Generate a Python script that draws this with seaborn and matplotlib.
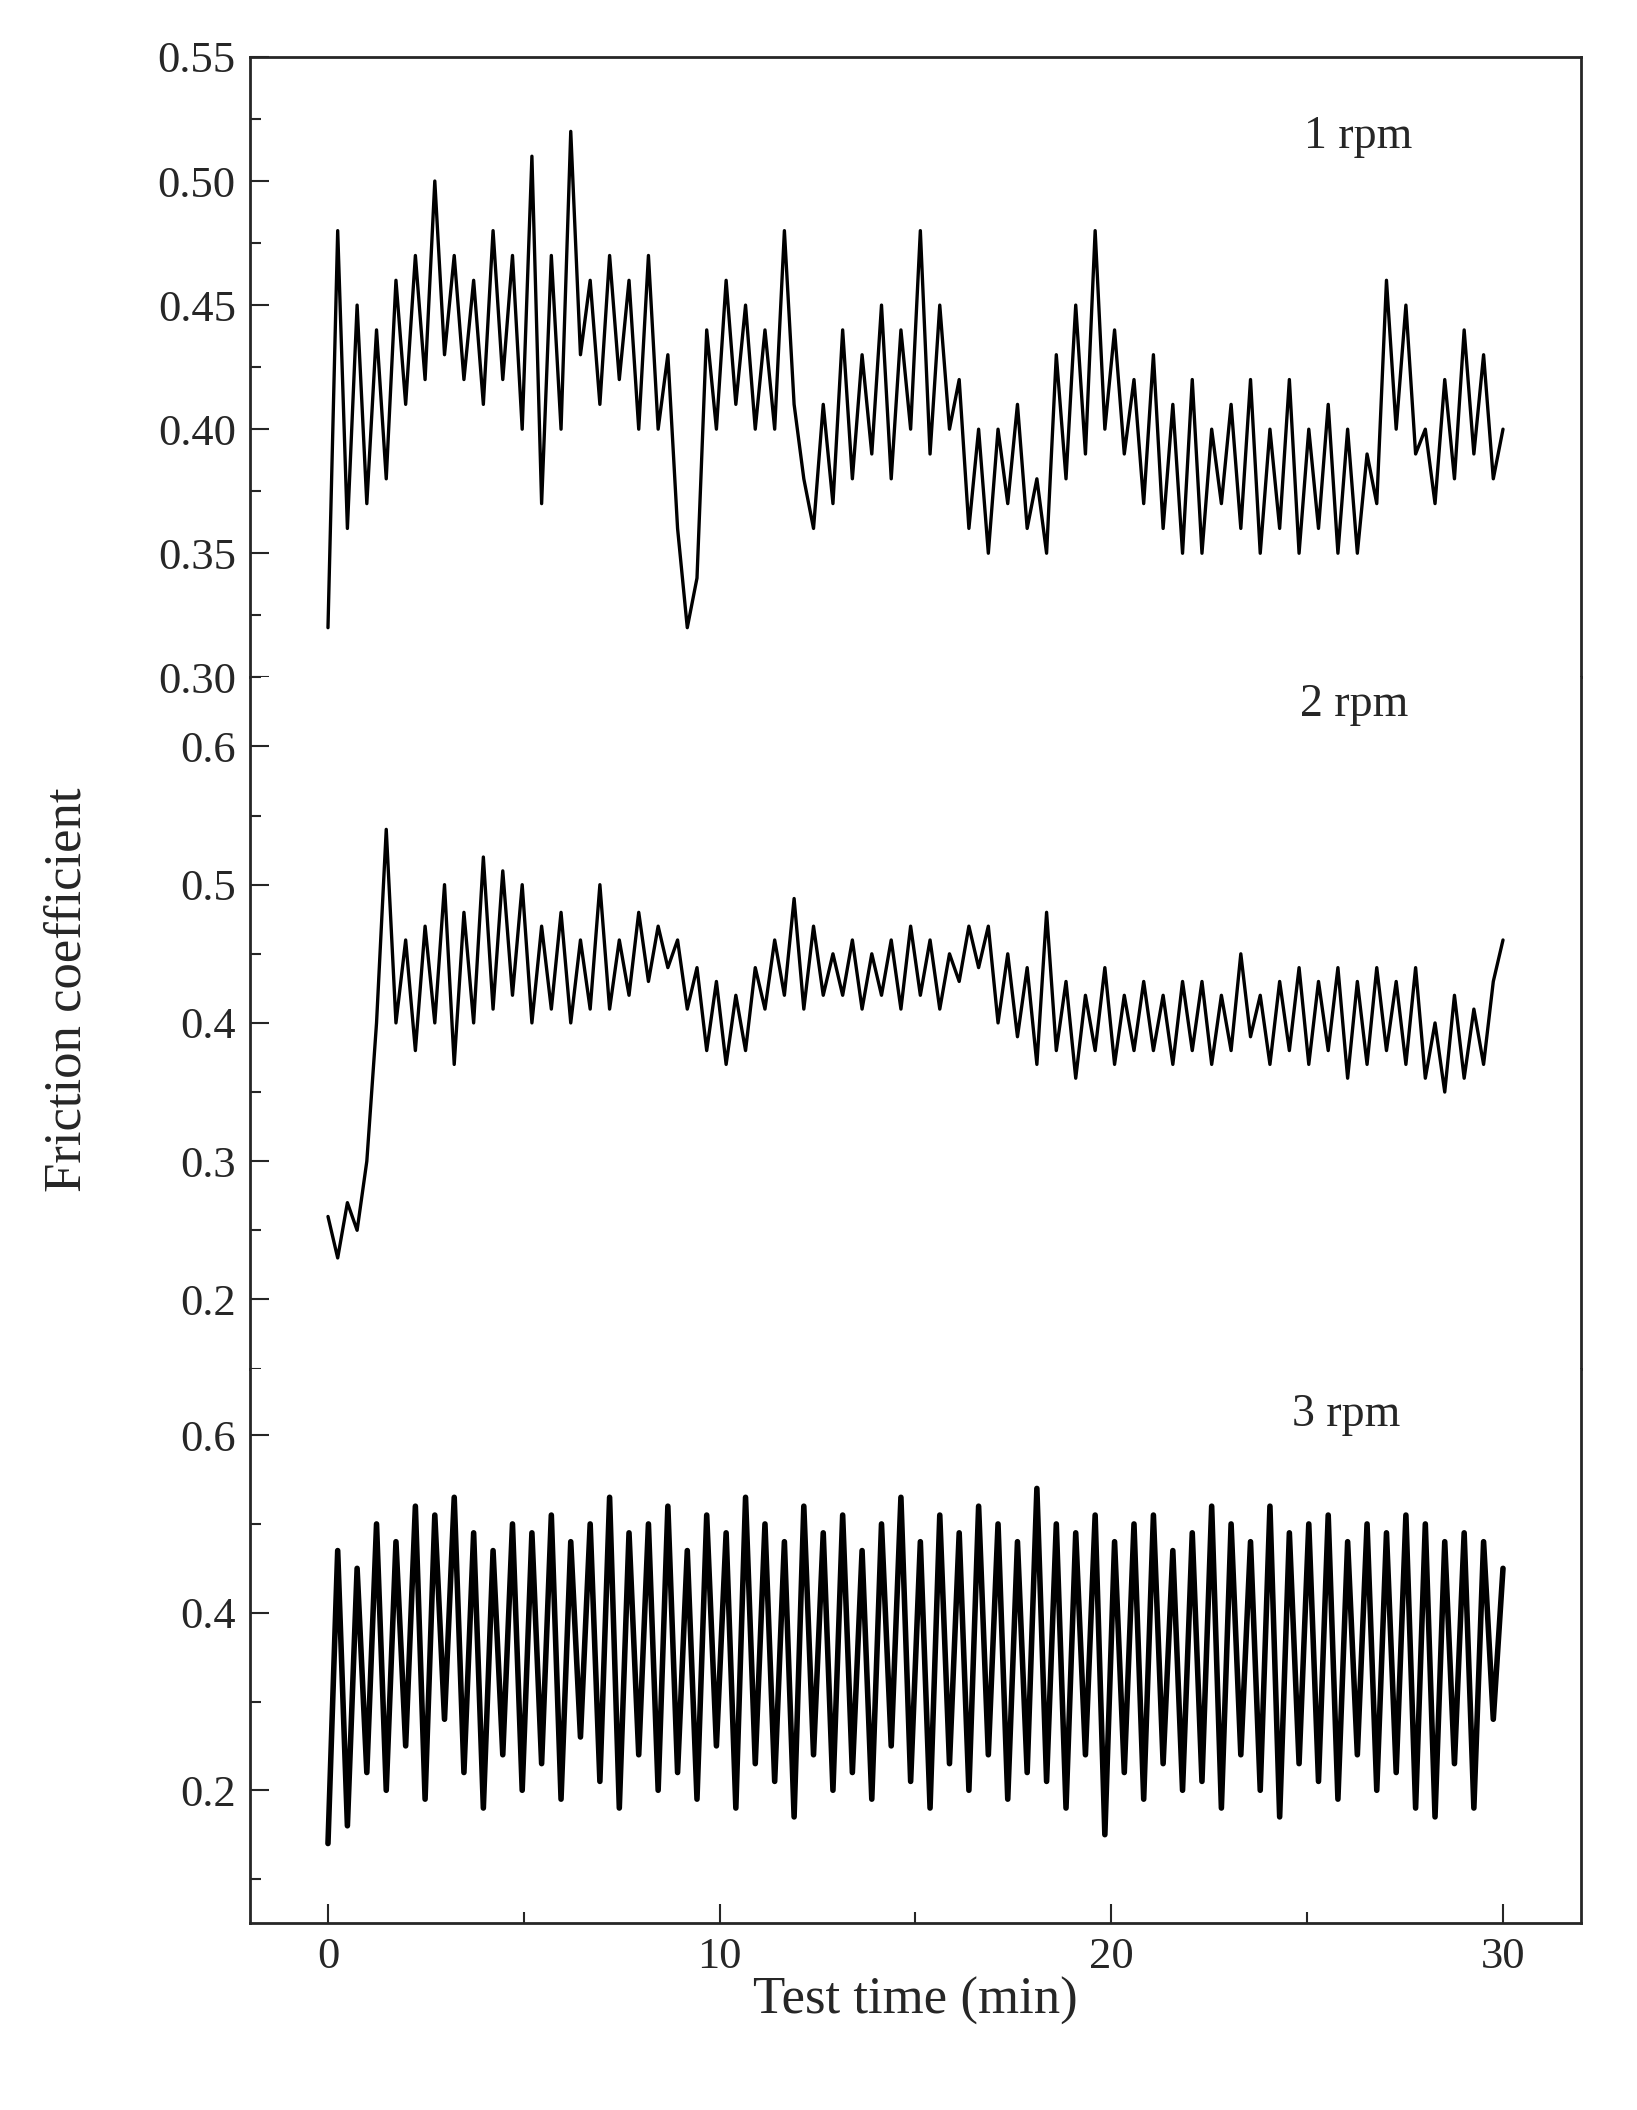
import numpy as np
import matplotlib
matplotlib.use("Agg")
import matplotlib.pyplot as plt
import seaborn as sns
from matplotlib.ticker import MultipleLocator

sns.set_style("ticks")
plt.rcParams['font.family'] = ['Liberation Serif', 'DejaVu Serif']

rpm1 = [0.32,0.48,0.36,0.45,0.37,
 0.44,0.38,0.46,0.41, 0.47,0.42,0.50,0.43, 0.47,0.42,0.46,0.41, 0.48,0.42,0.47,0.40,
 0.51,0.37,0.47,0.40, 0.52,0.43,0.46,0.41, 0.47,0.42,0.46,0.40, 0.47,0.40,0.43,0.36,
 0.32,0.34,0.44,0.40, 0.46,0.41,0.45,0.40, 0.44,0.40,0.48,0.41, 0.38,0.36,0.41,0.37,
 0.44,0.38,0.43,0.39, 0.45,0.38,0.44,0.40, 0.48,0.39,0.45,0.40, 0.42,0.36,0.40,0.35,
 0.40,0.37,0.41,0.36, 0.38,0.35,0.43,0.38, 0.45,0.39,0.48,0.40, 0.44,0.39,0.42,0.37,
 0.43,0.36,0.41,0.35, 0.42,0.35,0.40,0.37, 0.41,0.36,0.42,0.35, 0.40,0.36,0.42,0.35,
 0.40,0.36,0.41,0.35, 0.40,0.35,0.39,0.37, 0.46,0.40,0.45,0.39, 0.40,0.37,0.42,0.38,
 0.44,0.39,0.43,0.38,0.40]

rpm2 = [0.26,0.23,0.27,0.25,0.30,
 0.40,0.54,0.40,0.46, 0.38,0.47,0.40,0.50, 0.37,0.48,0.40,0.52, 0.41,0.51,0.42,0.50,
 0.40,0.47,0.41,0.48, 0.40,0.46,0.41,0.50, 0.41,0.46,0.42,0.48, 0.43,0.47,0.44,0.46,
 0.41,0.44,0.38,0.43, 0.37,0.42,0.38,0.44, 0.41,0.46,0.42,0.49, 0.41,0.47,0.42,0.45,
 0.42,0.46,0.41,0.45, 0.42,0.46,0.41,0.47, 0.42,0.46,0.41,0.45, 0.43,0.47,0.44,0.47,
 0.40,0.45,0.39,0.44, 0.37,0.48,0.38,0.43, 0.36,0.42,0.38,0.44, 0.37,0.42,0.38,0.43,
 0.38,0.42,0.37,0.43, 0.38,0.43,0.37,0.42, 0.38,0.45,0.39,0.42, 0.37,0.43,0.38,0.44,
 0.37,0.43,0.38,0.44, 0.36,0.43,0.37,0.44, 0.38,0.43,0.37,0.44, 0.36,0.40,0.35,0.42,
 0.36,0.41,0.37,0.43,0.46]

rpm3 = [0.14,0.47,0.16,0.45,0.22,
 0.50,0.20,0.48,0.25, 0.52,0.19,0.51,0.28, 0.53,0.22,0.49,0.18, 0.47,0.24,0.50,0.20,
 0.49,0.23,0.51,0.19, 0.48,0.26,0.50,0.21, 0.53,0.18,0.49,0.24, 0.50,0.20,0.52,0.22,
 0.47,0.19,0.51,0.25, 0.49,0.18,0.53,0.23, 0.50,0.21,0.48,0.17, 0.52,0.24,0.49,0.20,
 0.51,0.22,0.47,0.19, 0.50,0.25,0.53,0.21, 0.48,0.18,0.51,0.23, 0.49,0.20,0.52,0.24,
 0.50,0.19,0.48,0.22, 0.54,0.21,0.50,0.18, 0.49,0.24,0.51,0.15, 0.48,0.22,0.50,0.19,
 0.51,0.23,0.47,0.20, 0.49,0.21,0.52,0.18, 0.50,0.24,0.48,0.20, 0.52,0.17,0.49,0.23,
 0.50,0.21,0.51,0.19, 0.48,0.24,0.50,0.20, 0.49,0.22,0.51,0.18, 0.50,0.17,0.48,0.23,
 0.49,0.18,0.48,0.28,0.45]

panels = [
    (rpm1, "1 rpm", (0.30, 0.55), [0.30,0.35,0.40,0.45,0.50,0.55], 0.025, "{:.2f}", (26.3, 0.518), 0.294),
    (rpm2, "2 rpm", (0.15, 0.65), [0.2,0.3,0.4,0.5,0.6], 0.05, "{:.1f}", (26.2, 0.63), 0.3276),
    (rpm3, "3 rpm", (0.05, 0.675), [0.2,0.4,0.6], 0.1, "{:.1f}", (26.0, 0.623), 0.263),
]

fig = plt.figure(figsize=(16.37, 21.1), dpi=100)
left, right, top = 0.1525, 0.966, 0.973
width = right - left
y = top
axes = []
for i, (vals, lab, ylim, yt, minor, fmt, tpos, h) in enumerate(panels):
    y -= h
    ax = fig.add_axes([left, y, width, h])
    t = np.linspace(0, 30, len(vals))
    sns.lineplot(x=t, y=vals, ax=ax, color='k', lw=2.4 if i < 2 else 4.0)
    ax.set_xlim(-2, 32)
    ax.set_ylim(*ylim)
    ax.set_yticks(yt)
    ax.set_yticklabels([fmt.format(v) for v in yt])
    ax.yaxis.set_minor_locator(MultipleLocator(minor))
    ax.tick_params(axis='y', direction='in', length=14, width=1.5, labelsize=32, pad=10)
    ax.tick_params(axis='y', which='minor', direction='in', length=8, width=1.5)
    ax.text(tpos[0], tpos[1], lab, fontsize=33, ha='center', va='center')
    for s in ax.spines.values():
        s.set_linewidth(2)
    if i > 0:
        ax.spines['top'].set_visible(False)
    if i < 2:
        ax.spines['bottom'].set_visible(False)
        ax.tick_params(axis='x', bottom=False, labelbottom=False)
    ax.set_xlabel(""); ax.set_ylabel("")
    axes.append(ax)

ax = axes[-1]
ax.set_xticks([0, 10, 20, 30])
ax.xaxis.set_minor_locator(MultipleLocator(5))
ax.tick_params(axis='x', direction='in', length=14, width=1.5, labelsize=32, pad=10)
ax.tick_params(axis='x', which='minor', direction='in', length=8, width=1.5)
ax.set_xlabel("Test time (min)", fontsize=38, labelpad=0)
fig.text(0.041, (top + y) / 2, "Friction coefficient", rotation=90, fontsize=38,
         ha='center', va='center')

fig.savefig("out.png", dpi=100)
